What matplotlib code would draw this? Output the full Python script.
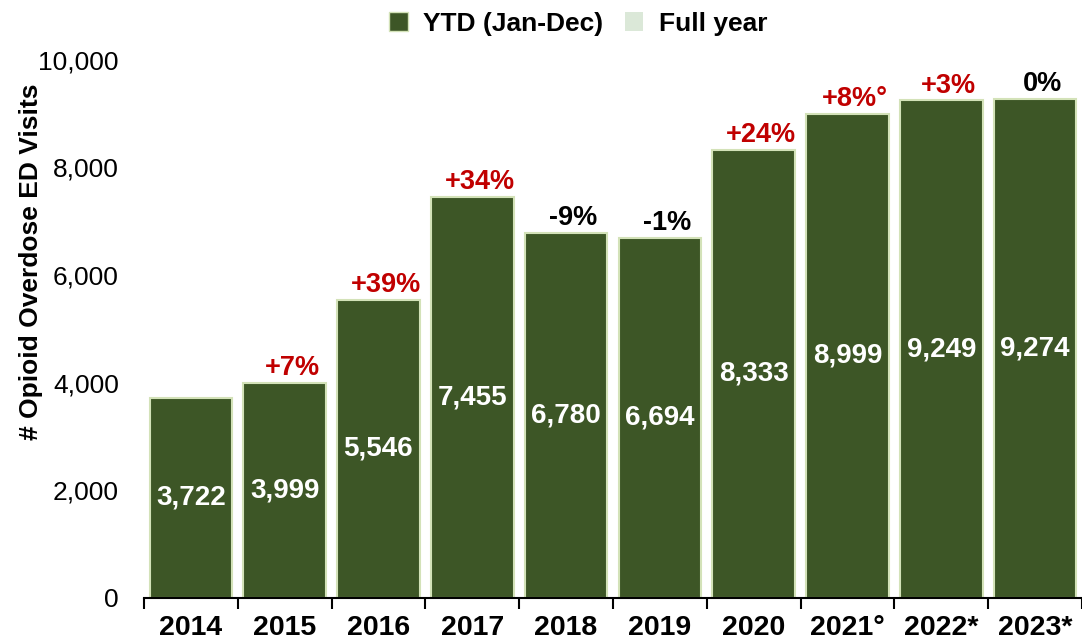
import numpy as np
import matplotlib.pyplot as plt
from matplotlib.patches import Patch

plt.rcParams['font.family'] = ['Liberation Sans', 'DejaVu Sans']

# chart data
years = ['2014', '2015', '2016', '2017', '2018', '2019', '2020', '2021°', '2022*', '2023*']
visits = [3722, 3999, 5546, 7455, 6780, 6694, 8333, 8999, 9249, 9274]
pct_change = ['', '+7%', '+39%', '+34%', '-9%', '-1%', '+24%', '+8%°', '+3%', '0%']

bar_color = '#3d5626'
edge_color = '#d3e2b8'
full_year_color = '#dbe8d8'

fig = plt.figure(figsize=(10.82, 6.43), dpi=100)
ax = fig.add_axes([0.133, 0.07, 0.867, 0.837])

x = np.arange(len(years))
ax.bar(x, visits, width=0.88, color=bar_color, edgecolor=edge_color, linewidth=1.5)

for i, v in enumerate(visits):
    ax.text(x[i], v / 2, f'{v:,}', ha='center', va='center', color='white',
            fontsize=20, fontweight='bold')
    if pct_change[i]:
        col = '#c00000' if pct_change[i].startswith('+') else 'black'
        ax.text(x[i] + 0.08, v + 30, pct_change[i], ha='center', va='bottom',
                color=col, fontsize=19.5, fontweight='bold')

ax.set_xlim(-0.5, len(years) - 0.5)
ax.set_ylim(0, 10000)
ax.set_yticks(range(0, 10001, 2000))
ax.set_yticklabels([f'{t:,}' for t in range(0, 10001, 2000)], fontsize=19)
ax.set_xticks(x)
ax.set_xticklabels(years, fontsize=20.5, fontweight='bold')
ax.set_xticks(np.arange(-0.5, len(years), 1), minor=True)
ax.tick_params(axis='x', which='major', length=0, pad=12)
ax.tick_params(axis='x', which='minor', length=8, width=1.5, direction='out')
ax.tick_params(axis='y', length=0, pad=18)

for s in ['top', 'right', 'left']:
    ax.spines[s].set_visible(False)
ax.spines['bottom'].set_linewidth(1.5)

ax.set_ylabel('# Opioid Overdose ED Visits', fontsize=19, fontweight='bold')
ax.yaxis.set_label_coords(-0.108, 0.625)

handles = [Patch(facecolor=bar_color, edgecolor=edge_color, label='YTD (Jan-Dec)'),
           Patch(facecolor=full_year_color, label='Full year')]
ax.legend(handles=handles, loc='lower center', bbox_to_anchor=(0.463, 1.02), ncol=2,
          frameon=False, prop={'size': 19, 'weight': 'bold'}, handlelength=0.7,
          handleheight=0.7, handletextpad=0.6, columnspacing=0.8, borderaxespad=0.1)

fig.savefig('out.png', dpi=100)
